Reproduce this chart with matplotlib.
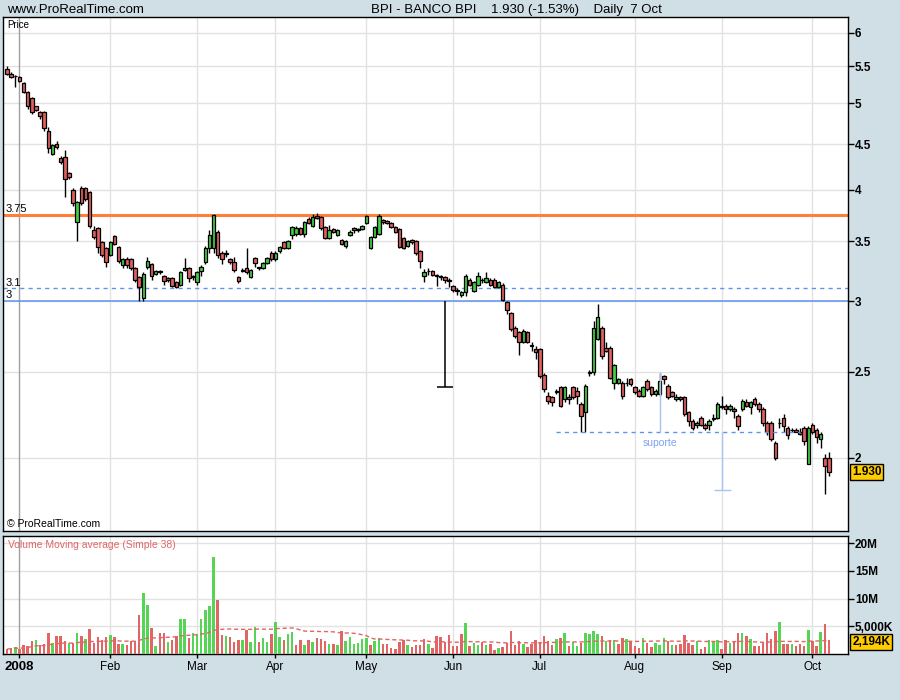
import numpy as np
import pandas as pd
import matplotlib
matplotlib.use("Agg")
import matplotlib.pyplot as plt
from matplotlib.ticker import NullLocator

plt.rcParams["font.family"] = ["Liberation Sans", "DejaVu Sans"]

# ─────────────────────────────────────────
# Data (daily candles, 27 Dec 2007 .. 7 Oct 2008)
# ─────────────────────────────────────────
opens = [
    5.47, 5.40, 5.37, 5.35, 5.27, 5.15, 5.07, 4.96, 4.89, 4.89,
    4.66, 4.39, 4.50, 4.34, 4.35, 4.18, 4.00, 3.68, 4.02, 4.02,
    3.98, 3.60, 3.62, 3.49, 3.44, 3.38, 3.55, 3.45, 3.29, 3.34,
    3.34, 3.27, 3.19, 3.02, 3.28, 3.30, 3.22, 3.24, 3.20, 3.18,
    3.18, 3.15, 3.13, 3.25, 3.27, 3.20, 3.15, 3.24, 3.32, 3.44,
    3.44, 3.59, 3.40, 3.40, 3.34, 3.32, 3.19, 3.25, 3.27, 3.19,
    3.35, 3.28, 3.27, 3.31, 3.40, 3.34, 3.41, 3.49, 3.44, 3.56,
    3.57, 3.62, 3.57, 3.71, 3.64, 3.74, 3.73, 3.63, 3.53, 3.61,
    3.56, 3.51, 3.46, 3.56, 3.62, 3.60, 3.61, 3.67, 3.44, 3.54,
    3.57, 3.70, 3.69, 3.67, 3.63, 3.61, 3.53, 3.46, 3.51, 3.50,
    3.41, 3.20, 3.24, 3.24, 3.21, 3.20, 3.19, 3.17, 3.12, 3.09,
    3.05, 3.07, 3.17, 3.08, 3.13, 3.17, 3.15, 3.17, 3.17, 3.11,
    3.13, 2.99, 2.91, 2.80, 2.77, 2.70, 2.77, 2.68, 2.65, 2.65,
    2.48, 2.35, 2.34, 2.37, 2.40, 2.33, 2.34, 2.40, 2.38, 2.30,
    2.25, 2.49, 2.50, 2.72, 2.80, 2.66, 2.66, 2.43, 2.43, 2.43,
    2.43, 2.45, 2.40, 2.38, 2.35, 2.44, 2.40, 2.36, 2.36, 2.47,
    2.41, 2.37, 2.33, 2.34, 2.34, 2.25, 2.20, 2.18, 2.22, 2.18,
    2.18, 2.21, 2.22, 2.28, 2.29, 2.27, 2.27, 2.23, 2.27, 2.31,
    2.28, 2.33, 2.30, 2.27, 2.19, 2.19, 2.08, 2.19, 2.22, 2.16,
    2.15, 2.15, 2.14, 2.16, 1.97, 2.18, 2.15, 2.10, 2.00, 2.00,
]
highs = [
    5.51, 5.42, 5.38, 5.36, 5.28, 5.16, 5.08, 4.97, 4.90, 4.90,
    4.70, 4.50, 4.54, 4.36, 4.43, 4.19, 4.02, 3.88, 4.04, 4.03,
    3.99, 3.64, 3.63, 3.50, 3.45, 3.50, 3.56, 3.46, 3.35, 3.36,
    3.35, 3.28, 3.20, 3.23, 3.36, 3.31, 3.25, 3.25, 3.21, 3.19,
    3.19, 3.16, 3.24, 3.35, 3.28, 3.21, 3.24, 3.29, 3.46, 3.60,
    3.76, 3.60, 3.41, 3.42, 3.35, 3.36, 3.20, 3.27, 3.44, 3.26,
    3.36, 3.28, 3.32, 3.36, 3.41, 3.41, 3.46, 3.50, 3.51, 3.64,
    3.64, 3.63, 3.69, 3.73, 3.76, 3.77, 3.74, 3.64, 3.65, 3.62,
    3.61, 3.52, 3.51, 3.60, 3.63, 3.62, 3.65, 3.75, 3.55, 3.64,
    3.76, 3.71, 3.70, 3.68, 3.64, 3.62, 3.54, 3.51, 3.52, 3.51,
    3.42, 3.26, 3.27, 3.25, 3.22, 3.21, 3.20, 3.18, 3.13, 3.10,
    3.08, 3.22, 3.18, 3.16, 3.23, 3.18, 3.23, 3.18, 3.18, 3.16,
    3.14, 3.00, 2.92, 2.81, 2.78, 2.79, 2.78, 2.70, 2.67, 2.66,
    2.49, 2.37, 2.35, 2.39, 2.41, 2.41, 2.36, 2.41, 2.40, 2.31,
    2.42, 2.51, 2.85, 2.98, 2.81, 2.70, 2.67, 2.55, 2.46, 2.44,
    2.46, 2.46, 2.41, 2.39, 2.41, 2.45, 2.41, 2.39, 2.49, 2.48,
    2.42, 2.38, 2.36, 2.35, 2.35, 2.26, 2.21, 2.20, 2.23, 2.19,
    2.21, 2.24, 2.31, 2.35, 2.30, 2.30, 2.28, 2.24, 2.33, 2.33,
    2.32, 2.34, 2.31, 2.28, 2.20, 2.20, 2.09, 2.22, 2.24, 2.17,
    2.16, 2.16, 2.16, 2.17, 2.17, 2.19, 2.16, 2.14, 2.02, 2.03,
]
lows = [
    5.38, 5.34, 5.22, 5.29, 5.14, 4.93, 4.87, 4.90, 4.80, 4.66,
    4.40, 4.37, 4.44, 4.28, 3.93, 4.11, 3.84, 3.50, 3.85, 3.88,
    3.62, 3.52, 3.40, 3.36, 3.28, 3.37, 3.47, 3.31, 3.27, 3.27,
    3.25, 3.15, 3.00, 3.00, 3.26, 3.17, 3.21, 3.22, 3.13, 3.15,
    3.11, 3.10, 3.12, 3.24, 3.15, 3.17, 3.13, 3.20, 3.30, 3.40,
    3.40, 3.35, 3.30, 3.36, 3.30, 3.23, 3.14, 3.23, 3.22, 3.18,
    3.28, 3.25, 3.26, 3.30, 3.33, 3.33, 3.40, 3.43, 3.43, 3.52,
    3.55, 3.56, 3.54, 3.66, 3.63, 3.71, 3.60, 3.52, 3.52, 3.58,
    3.55, 3.47, 3.44, 3.55, 3.58, 3.59, 3.60, 3.66, 3.43, 3.53,
    3.56, 3.66, 3.66, 3.62, 3.58, 3.44, 3.43, 3.45, 3.48, 3.38,
    3.27, 3.15, 3.21, 3.20, 3.12, 3.17, 3.14, 3.11, 3.07, 3.05,
    3.03, 3.04, 3.12, 3.07, 3.12, 3.14, 3.14, 3.12, 3.10, 3.10,
    3.00, 2.90, 2.78, 2.73, 2.61, 2.69, 2.69, 2.64, 2.58, 2.46,
    2.37, 2.30, 2.29, 2.36, 2.28, 2.31, 2.30, 2.33, 2.30, 2.14,
    2.14, 2.47, 2.48, 2.71, 2.58, 2.63, 2.45, 2.39, 2.42, 2.33,
    2.41, 2.41, 2.36, 2.34, 2.34, 2.38, 2.35, 2.35, 2.35, 2.42,
    2.33, 2.34, 2.32, 2.32, 2.23, 2.17, 2.15, 2.16, 2.17, 2.15,
    2.15, 2.20, 2.21, 2.27, 2.24, 2.26, 2.22, 2.15, 2.26, 2.28,
    2.24, 2.29, 2.25, 2.17, 2.12, 2.09, 1.99, 2.16, 2.14, 2.10,
    2.14, 2.14, 2.12, 2.07, 1.97, 2.13, 2.08, 2.05, 1.82, 1.91,
]
closes = [
    5.40, 5.35, 5.36, 5.30, 5.15, 4.96, 4.89, 4.92, 4.84, 4.69,
    4.46, 4.49, 4.47, 4.30, 4.11, 4.13, 3.86, 3.87, 3.86, 3.91,
    3.64, 3.54, 3.45, 3.38, 3.32, 3.49, 3.48, 3.33, 3.34, 3.29,
    3.27, 3.17, 3.11, 3.22, 3.33, 3.20, 3.24, 3.23, 3.16, 3.17,
    3.12, 3.11, 3.23, 3.27, 3.18, 3.19, 3.23, 3.28, 3.44, 3.56,
    3.75, 3.38, 3.34, 3.39, 3.32, 3.25, 3.16, 3.24, 3.23, 3.25,
    3.31, 3.27, 3.31, 3.35, 3.34, 3.40, 3.45, 3.44, 3.50, 3.63,
    3.62, 3.57, 3.68, 3.67, 3.73, 3.72, 3.62, 3.53, 3.60, 3.59,
    3.60, 3.48, 3.50, 3.59, 3.60, 3.61, 3.64, 3.74, 3.54, 3.63,
    3.74, 3.68, 3.67, 3.63, 3.59, 3.45, 3.44, 3.50, 3.49, 3.40,
    3.33, 3.23, 3.24, 3.21, 3.20, 3.19, 3.17, 3.16, 3.09, 3.08,
    3.07, 3.20, 3.13, 3.15, 3.20, 3.17, 3.18, 3.13, 3.11, 3.15,
    3.01, 2.93, 2.79, 2.74, 2.70, 2.78, 2.70, 2.67, 2.63, 2.47,
    2.39, 2.32, 2.31, 2.38, 2.29, 2.40, 2.33, 2.34, 2.35, 2.23,
    2.41, 2.50, 2.80, 2.88, 2.60, 2.64, 2.46, 2.54, 2.45, 2.35,
    2.43, 2.42, 2.37, 2.35, 2.40, 2.39, 2.36, 2.38, 2.44, 2.45,
    2.34, 2.35, 2.34, 2.33, 2.24, 2.20, 2.16, 2.19, 2.18, 2.16,
    2.20, 2.22, 2.30, 2.29, 2.27, 2.29, 2.26, 2.17, 2.32, 2.29,
    2.31, 2.30, 2.27, 2.19, 2.14, 2.10, 2.00, 2.19, 2.17, 2.12,
    2.15, 2.14, 2.13, 2.09, 2.16, 2.14, 2.11, 2.13, 1.96, 1.93,
]
# volume in millions of shares
volumes = [
    0.88, 1.06, 1.24, 0.88, 1.59, 1.47, 2.29, 2.47, 1.59, 1.76,
    3.71, 1.94, 3.18, 3.18, 2.29, 1.94, 1.94, 3.71, 3.18, 2.65,
    4.59, 1.94, 3.00, 2.47, 3.00, 3.35, 3.00, 1.76, 1.76, 1.59,
    2.29, 2.29, 7.06, 11.0, 8.82, 4.76, 1.41, 3.88, 3.71, 2.12,
    2.47, 3.18, 6.35, 6.35, 2.82, 3.88, 3.53, 6.35, 7.94, 8.65,
    17.5, 9.71, 3.35, 3.18, 3.00, 2.12, 2.47, 2.47, 4.29, 2.12,
    4.94, 2.12, 2.82, 2.12, 3.53, 5.82, 3.00, 2.47, 3.53, 4.06,
    1.59, 2.47, 1.59, 2.47, 2.12, 2.82, 2.65, 2.29, 1.76, 1.76,
    1.59, 4.24, 2.29, 3.00, 1.76, 1.94, 2.65, 2.82, 1.59, 2.29,
    2.82, 1.76, 1.76, 1.06, 0.88, 2.12, 2.47, 1.59, 1.24, 1.59,
    1.59, 2.65, 1.76, 1.06, 3.18, 3.00, 2.12, 3.35, 1.41, 1.41,
    3.53, 5.65, 1.41, 1.94, 1.59, 2.12, 1.59, 1.76, 0.71, 1.06,
    1.24, 1.94, 4.24, 1.59, 2.29, 1.76, 1.24, 1.76, 2.47, 2.12,
    3.18, 2.29, 1.59, 2.65, 2.82, 3.71, 1.41, 2.12, 1.41, 1.94,
    3.71, 3.53, 4.24, 3.53, 3.18, 2.29, 2.47, 2.47, 1.76, 2.82,
    2.65, 2.12, 1.41, 1.06, 2.82, 1.94, 1.24, 1.94, 1.59, 2.82,
    2.29, 1.59, 1.59, 1.76, 3.35, 1.94, 1.59, 2.29, 0.88, 1.24,
    2.47, 2.12, 2.47, 0.88, 2.47, 1.94, 2.29, 3.71, 3.71, 3.18,
    2.65, 1.41, 1.41, 1.94, 3.71, 2.65, 4.24, 5.82, 1.76, 1.76,
    1.76, 1.41, 1.76, 1.41, 4.41, 2.29, 1.41, 4.06, 5.47, 2.47,
]

month_idx = [3, 25, 46, 65, 87, 108, 129, 152, 173, 195]
month_labels = ["2008", "Feb", "Mar", "Apr", "May", "Jun", "Jul", "Aug", "Sep", "Oct"]

price_ticks = [2, 2.5, 3, 3.5, 4, 4.5, 5, 5.5, 6]
vol_ticks = [5, 10, 15, 20]
vol_tick_labels = ["5,000K", "10M", "15M", "20M"]

resistance = 3.75
neckline = 3.0
dashed_level = 3.1
target_low = 2.40
support = 2.14
support_top = 2.50
support_target = 1.84

# ─────────────────────────────────────────
# Styles
# ─────────────────────────────────────────
BG = "#D0DFE6"
GREEN = "#44CC44"
RED = "#E06060"
VGREEN = "#55D455"
VRED = "#E06666"
GRID = "#E2E2E2"
BLUE = "#5C94F0"
LIGHT_BLUE = "#A8C2F2"

O = np.array(opens)
H = np.array(highs)
L = np.array(lows)
C = np.array(closes)
V = np.array(volumes)
x = np.arange(len(C))
H = np.maximum(H, np.maximum(O, C))
L = np.minimum(L, np.minimum(O, C))

candle_up = C >= O
prev_close = np.concatenate([[O[0]], C[:-1]])
vol_up = C >= prev_close
vol_ma = pd.Series(V).rolling(38, min_periods=1).mean().values

xlim = (-0.97, 203.6)

fig = plt.figure(figsize=(9, 7), dpi=100, facecolor=BG)
ax = fig.add_axes([3 / 900, 1 - 531 / 700, 845 / 900, 514 / 700])
axv = fig.add_axes([3 / 900, 1 - 654 / 700, 845 / 900, 118 / 700])

# ── Price panel ──
ax.set_yscale("log")
ax.set_ylim(1.656, 6.25)
ax.set_xlim(*xlim)
ax.set_facecolor("white")

for m in month_idx[1:]:
    ax.axvline(m, color=GRID, lw=1, zorder=0)
for t in price_ticks:
    ax.axhline(t, color=GRID, lw=1, zorder=0)
ax.axvline(month_idx[0], color="#A0A0A0", lw=1, zorder=1)

ax.axhline(resistance, color="#FF7F3A", lw=2.2, zorder=2)
ax.axhline(neckline, color=BLUE, lw=1.1, zorder=2)
ax.axhline(dashed_level, color=BLUE, lw=1, ls=(0, (3, 3)), zorder=2)

ax.vlines(x, L, H, color="black", lw=1, zorder=3)
ax.bar(x, np.abs(C - O), bottom=np.minimum(O, C), width=0.85,
       color=np.where(candle_up, GREEN, RED), edgecolor="black",
       linewidth=0.9, zorder=4)

# measured move below the neckline
ax.vlines(106, target_low, neckline, color="black", lw=1.1, zorder=5)
ax.hlines(target_low, 104.1, 108.0, color="black", lw=1.1, zorder=5)

# support annotation
ax.hlines(support, 133, 192, color=BLUE, lw=1, ls=(0, (3, 3)), zorder=5)
ax.vlines(158, support, support_top, color=LIGHT_BLUE, lw=1, zorder=5)
ax.vlines(173, support_target, support, color=LIGHT_BLUE, lw=1, zorder=5)
ax.hlines(support_target, 171.2, 175.3, color=LIGHT_BLUE, lw=1, zorder=5)
ax.text(158, 2.078, "suporte", color="#7FA3EE", fontsize=7.5,
        ha="center", va="center", zorder=6)

ytrans = ax.get_yaxis_transform()
for lvl, txt in [(resistance, "3.75"), (dashed_level, "3.1"), (neckline, "3")]:
    ax.annotate(txt, xy=(0, lvl), xycoords=ytrans, xytext=(2, 0.5),
                textcoords="offset points", fontsize=8, va="bottom", ha="left")

ax.yaxis.tick_right()
ax.set_yticks(price_ticks)
ax.set_yticklabels([f"{t:g}" for t in price_ticks])
ax.yaxis.set_minor_locator(NullLocator())
ax.tick_params(axis="y", direction="out", length=4, width=1, pad=1, labelsize=8.5)
for lbl in ax.get_yticklabels():
    lbl.set_fontweight("bold")
ax.set_xticks([])
for s in ax.spines.values():
    s.set_color("black")
    s.set_linewidth(1)

ax.text(0.005, 0.995, "Price", transform=ax.transAxes, fontsize=7, va="top", ha="left")
ax.text(0.005, 0.004, "© ProRealTime.com", transform=ax.transAxes, fontsize=7.5,
        va="bottom", ha="left")
ax.text(1.005, C[-1], f"{C[-1]:.3f}", transform=ytrans, fontsize=8.5,
        fontweight="bold", va="center", ha="left",
        bbox=dict(boxstyle="square,pad=0.15", fc="#FFCC00", ec="black", lw=1))

# ── Volume panel ──
axv.set_xlim(*xlim)
axv.set_ylim(0, 21.3)
axv.set_facecolor("white")
for m in month_idx[1:]:
    axv.axvline(m, color=GRID, lw=1, zorder=0)
for t in vol_ticks:
    axv.axhline(t, color=GRID, lw=1, zorder=0)
axv.axvline(month_idx[0], color="#A0A0A0", lw=1, zorder=1)

axv.bar(x, V, width=0.6, color=np.where(vol_up, VGREEN, VRED), zorder=3)
axv.plot(x, vol_ma, color=VRED, lw=1, ls=(0, (3, 2)), zorder=4)

axv.yaxis.tick_right()
axv.set_yticks(vol_ticks)
axv.set_yticklabels(vol_tick_labels)
axv.tick_params(axis="y", direction="out", length=4, width=1, pad=1, labelsize=8.5)
for lbl in axv.get_yticklabels():
    lbl.set_fontweight("bold")
axv.set_xticks(month_idx)
axv.set_xticklabels(month_labels)
axv.tick_params(axis="x", direction="out", length=3, width=1, pad=2, labelsize=8.5)
axv.get_xticklabels()[0].set_fontweight("bold")
axv.get_xticklabels()[0].set_fontsize(9.5)
for s in axv.spines.values():
    s.set_color("black")
    s.set_linewidth(1)

axv.text(0.006, 0.97, "Volume Moving average (Simple 38)", transform=axv.transAxes,
         color=VRED, fontsize=7.5, va="top", ha="left")
axv.text(1.005, 2.194, "2,194K", transform=axv.get_yaxis_transform(), fontsize=8.5,
         fontweight="bold", va="center", ha="left",
         bbox=dict(boxstyle="square,pad=0.15", fc="#FFCC00", ec="black", lw=1))

# ── Header ──
fig.text(7 / 900, 1 - 10 / 700, "www.ProRealTime.com", fontsize=9.5, va="center", ha="left")
fig.text(516 / 900, 1 - 10 / 700, "BPI - BANCO BPI    1.930 (-1.53%)    Daily  7 Oct",
         fontsize=9.5, va="center", ha="center")

fig.savefig("out.png", dpi=100, facecolor=BG)
